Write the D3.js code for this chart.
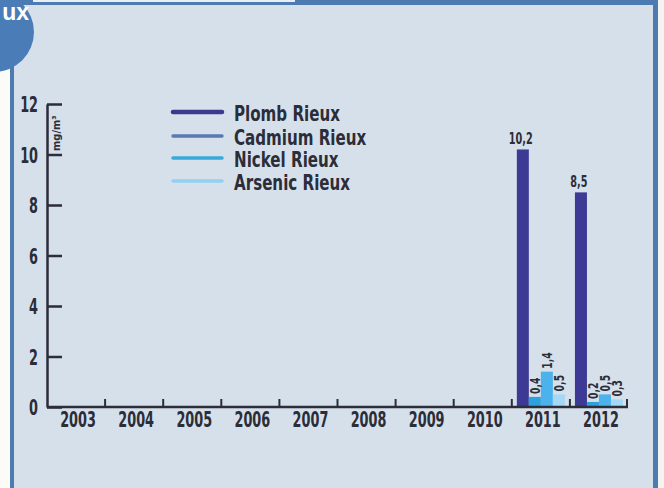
<!DOCTYPE html>
<html>
<head>
<meta charset="utf-8">
<script src="https://cdn.jsdelivr.net/npm/d3@7"></script>
<style>
  html, body { margin: 0; padding: 0; background: #fbfbf8; }
  svg { display: block; }
  .cond { font-family: "Liberation Sans Narrow", "Arial Narrow", "DejaVu Sans Condensed", sans-serif; font-weight: bold; fill: #2b2d38; }
</style>
</head>
<body>
<svg id="chart" width="664" height="488"></svg>
<script>
// Annual measurements per site (mg/m³); missing years are null
const years = ["2003", "2004", "2005", "2006", "2007", "2008", "2009", "2010", "2011", "2012"];
const seriesNames = ["Plomb Rieux", "Cadmium Rieux", "Nickel Rieux", "Arsenic Rieux"];
const plombValues   = [null, null, null, null, null, null, null, null, 10.2, 8.5];
const cadmiumValues = [null, null, null, null, null, null, null, null, 0.4, 0.2];
const nickelValues  = [null, null, null, null, null, null, null, null, 1.4, 0.5];
const arsenicValues = [null, null, null, null, null, null, null, null, 0.5, 0.3];
const yTicks = [0, 2, 4, 6, 8, 10, 12];
const unitLabel = "mg/m³";

const seriesValues = [plombValues, cadmiumValues, nickelValues, arsenicValues];
const legendColors = ["#3b3a8e", "#5b79b2", "#38a9d9", "#93d0f1"];
const barColors    = ["#3c3a94", "#2ba1de", "#4cb2ec", "#a6d7f4"];

// Horizontal squeeze to get a tall, condensed lettering
const squeeze = 0.68;

const svg = d3.select("#chart");

// Panel background and frame
svg.append("rect").attr("x", 12).attr("y", 0).attr("width", 644).attr("height", 488).attr("fill", "#d6e0eb");
svg.append("rect").attr("x", 10).attr("y", 0).attr("width", 4).attr("height", 488).attr("fill", "#4b7bb0");
svg.append("rect").attr("x", 653).attr("y", 0).attr("width", 5).attr("height", 488).attr("fill", "#4b7bb0");
svg.append("rect").attr("x", 10).attr("y", 0).attr("width", 648).attr("height", 5).attr("fill", "#4b7bb0");
svg.append("rect").attr("x", 33).attr("y", 0).attr("width", 262).attr("height", 2).attr("fill", "#e9eef4");
svg.append("rect").attr("x", 658).attr("y", 0).attr("width", 6).attr("height", 488).attr("fill", "#f3f3f0");

// Scales
const x0 = d3.scaleBand().domain(years).range([47, 628]).paddingInner(0).paddingOuter(0);
const x1 = d3.scaleBand().domain(seriesNames).range([0, x0.bandwidth()]).paddingInner(0).paddingOuter(0.42);
const y = d3.scaleLinear().domain([0, 12]).range([407, 104]);

const plot = svg.append("g");

// Bars
const barData = [];
years.forEach((yr, i) => {
  seriesNames.forEach((s, k) => {
    const v = seriesValues[k][i];
    if (v != null) barData.push({ year: yr, series: s, k, value: v });
  });
});

plot.selectAll("rect.bar").data(barData).join("rect")
  .attr("class", "bar")
  .attr("x", d => x0(d.year) + x1(d.series))
  .attr("y", d => y(d.value))
  .attr("width", x1.bandwidth())
  .attr("height", d => y(0) - y(d.value))
  .attr("fill", d => barColors[d.k]);

// Value labels (comma decimal)
const fmt = v => d3.format(".1f")(v).replace(".", ",");
plot.selectAll("text.val").data(barData).join("text")
  .attr("class", "val cond")
  .attr("font-size", d => d.k === 0 ? 15 : 14)
  .attr("text-anchor", d => d.k === 0 ? "middle" : "start")
  .attr("transform", d => {
    const cx = x0(d.year) + x1(d.series) + x1.bandwidth() / 2;
    if (d.k === 0) return `translate(${cx - 2},${y(d.value) - 5}) scale(0.72,1)`;
    return `translate(${cx + 5},${y(d.value) - 3}) rotate(-90) scale(0.74,1)`;
  })
  .text(d => fmt(d.value));

// Y axis: ticks pointing inward
const yAxis = d3.axisLeft(y).tickValues(yTicks).tickSize(-15).tickSizeOuter(0).tickPadding(9).tickFormat(d3.format("d"));
const gy = svg.append("g").attr("transform", "translate(47,0)").call(yAxis);
gy.select(".domain").attr("stroke", "#2b2d38").attr("stroke-width", 2.5);
gy.selectAll(".tick line").attr("stroke", "#2b2d38").attr("stroke-width", 2.5);
gy.selectAll(".tick text")
  .attr("class", "cond")
  .attr("font-size", 21)
  .attr("dy", "0.36em")
  .attr("transform", `scale(${squeeze},1)`)
  .attr("x", -9 / squeeze);

// X axis baseline with boundary ticks
svg.append("line")
  .attr("x1", x0.range()[0]).attr("x2", x0.range()[1])
  .attr("y1", y(0)).attr("y2", y(0))
  .attr("stroke", "#2b2d38").attr("stroke-width", 2.5);
svg.selectAll("line.bnd").data(years.slice(1).concat(["end"])).join("line")
  .attr("class", "bnd")
  .attr("x1", d => d === "end" ? x0.range()[1] - 1 : x0(d))
  .attr("x2", d => d === "end" ? x0.range()[1] - 1 : x0(d))
  .attr("y1", y(0) - 8).attr("y2", y(0))
  .attr("stroke", "#2b2d38").attr("stroke-width", 2);

svg.selectAll("text.year").data(years).join("text")
  .attr("class", "year cond")
  .attr("font-size", 21)
  .attr("text-anchor", "middle")
  .attr("transform", d => `translate(${x0(d) + x0.bandwidth() / 2 + 2},${y(0) + 20}) scale(${squeeze},1)`)
  .text(d => d);

// Unit label
svg.append("text")
  .attr("class", "cond")
  .attr("font-size", 11)
  .attr("transform", "translate(60,151) rotate(-90)")
  .text(unitLabel);

// Legend
const legendRows = [112, 136, 158, 181];
const legend = svg.append("g");
seriesNames.forEach((s, k) => {
  legend.append("line")
    .attr("x1", 173).attr("x2", 222)
    .attr("y1", legendRows[k]).attr("y2", legendRows[k])
    .attr("stroke", legendColors[k])
    .attr("stroke-width", k === 0 ? 4.5 : 3.5)
    .attr("stroke-linecap", "round");
  legend.append("text")
    .attr("class", "cond")
    .attr("font-size", 21)
    .attr("transform", `translate(234,${legendRows[k] + 9}) scale(0.8,1)`)
    .text(s);
});

// Corner badge
svg.append("circle").attr("cx", -6).attr("cy", 32).attr("r", 40).attr("fill", "#4a7db7");
svg.append("text")
  .attr("x", 29).attr("y", 20)
  .attr("text-anchor", "end")
  .attr("font-family", "Liberation Sans, Arial, sans-serif")
  .attr("font-weight", "bold")
  .attr("font-size", 23)
  .attr("fill", "#ffffff")
  .text("ux");
</script>
</body>
</html>
